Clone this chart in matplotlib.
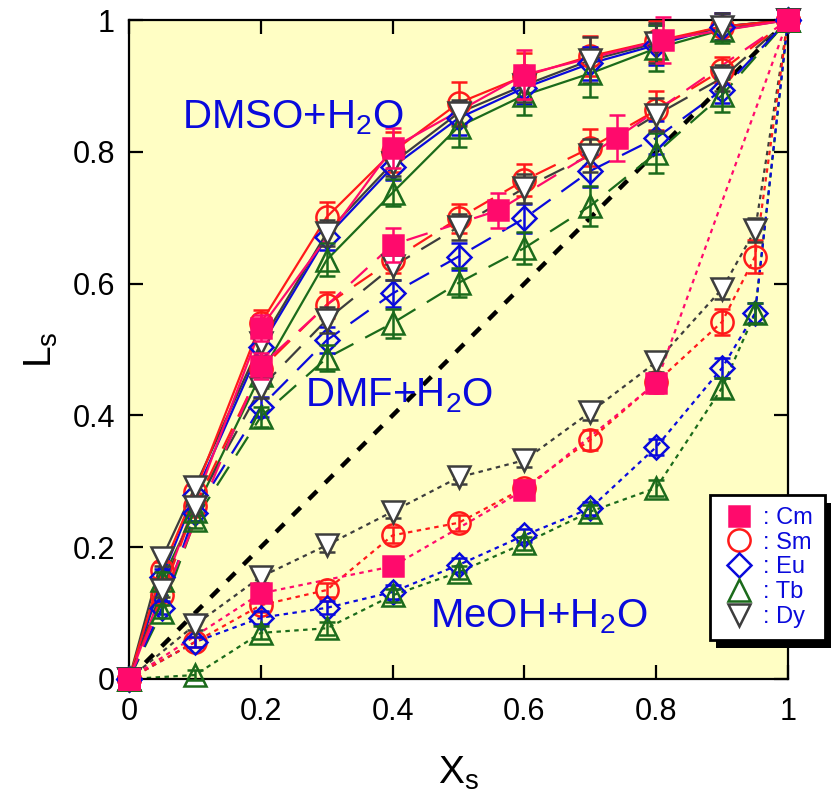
import matplotlib
matplotlib.use("Agg")
import matplotlib.pyplot as plt
from matplotlib.lines import Line2D
from matplotlib.patches import Rectangle

plt.rcParams["font.family"] = ["Liberation Sans", "DejaVu Sans"]
plt.rcParams["mathtext.fontset"] = "custom"
plt.rcParams["mathtext.rm"] = "Liberation Sans"
plt.rcParams["mathtext.it"] = "Liberation Sans"

# ---------------- data: mole fraction of organic solvent vs L_s ----------------
x_dmso = [0.0, 0.05, 0.1, 0.2, 0.3, 0.4, 0.5, 0.6, 0.7, 0.8, 0.9, 1.0]
dmso_sm = [0.0, 0.165, 0.284, 0.540, 0.701, 0.800, 0.874, 0.915, 0.945, 0.968, 0.990, 1.0]
dmso_eu = [0.0, 0.155, 0.279, 0.504, 0.671, 0.777, 0.851, 0.897, 0.934, 0.962, 0.990, 1.0]
dmso_tb = [0.0, 0.150, 0.255, 0.462, 0.636, 0.738, 0.838, 0.886, 0.919, 0.957, 0.985, 1.0]
dmso_dy = [0.0, 0.183, 0.291, 0.510, 0.677, 0.783, 0.859, 0.901, 0.939, 0.965, 0.990, 1.0]
dmso_sm_err = [0, 0.012, 0.015, 0.02, 0.023, 0.03, 0.032, 0.035, 0.03, 0.03, 0.02, 0]
dmso_eu_err = [0, 0.012, 0.015, 0.02, 0.02, 0.02, 0.025, 0.025, 0.025, 0.03, 0.02, 0]
dmso_tb_err = [0, 0.012, 0.015, 0.02, 0.025, 0.02, 0.03, 0.03, 0.036, 0.035, 0.02, 0]
dmso_dy_err = [0, 0.012, 0.015, 0.02, 0.02, 0.02, 0.02, 0.025, 0.035, 0.03, 0.02, 0]
x_dmso_cm = [0.0, 0.2, 0.4, 0.6, 0.81, 1.0]
dmso_cm = [0.0, 0.533, 0.806, 0.917, 0.970, 1.0]
dmso_cm_err = [0, 0.02, 0.03, 0.037, 0.035, 0]

x_dmf = [0.0, 0.05, 0.1, 0.2, 0.3, 0.4, 0.5, 0.6, 0.7, 0.8, 0.9, 1.0]
dmf_sm = [0.0, 0.127, 0.262, 0.470, 0.568, 0.636, 0.699, 0.757, 0.806, 0.863, 0.924, 1.0]
dmf_eu = [0.0, 0.108, 0.252, 0.413, 0.514, 0.585, 0.641, 0.699, 0.771, 0.821, 0.894, 1.0]
dmf_tb = [0.0, 0.102, 0.241, 0.398, 0.487, 0.540, 0.601, 0.654, 0.718, 0.798, 0.886, 1.0]
dmf_dy = [0.0, 0.135, 0.261, 0.442, 0.545, 0.626, 0.686, 0.745, 0.795, 0.856, 0.912, 1.0]
dmf_sm_err = [0, 0.01, 0.012, 0.015, 0.02, 0.02, 0.022, 0.024, 0.028, 0.03, 0.02, 0]
dmf_eu_err = [0, 0.01, 0.012, 0.015, 0.02, 0.02, 0.02, 0.022, 0.025, 0.025, 0.02, 0]
dmf_tb_err = [0, 0.01, 0.012, 0.015, 0.02, 0.022, 0.022, 0.025, 0.03, 0.03, 0.025, 0]
dmf_dy_err = [0, 0.01, 0.012, 0.015, 0.02, 0.02, 0.02, 0.022, 0.025, 0.025, 0.02, 0]
x_dmf_cm = [0.0, 0.2, 0.4, 0.56, 0.74, 1.0]
dmf_cm = [0.0, 0.475, 0.659, 0.711, 0.821, 1.0]
dmf_cm_err = [0, 0.02, 0.026, 0.027, 0.035, 0]

x_meoh = [0.0, 0.1, 0.2, 0.3, 0.4, 0.5, 0.6, 0.7, 0.8, 0.9, 0.95, 1.0]
meoh_sm = [0.0, 0.056, 0.112, 0.135, 0.218, 0.237, 0.290, 0.363, 0.450, 0.542, 0.641, 1.0]
meoh_eu = [0.0, 0.056, 0.093, 0.108, 0.132, 0.173, 0.218, 0.259, 0.352, 0.472, 0.555, 1.0]
meoh_tb = [0.0, 0.006, 0.070, 0.077, 0.127, 0.162, 0.206, 0.254, 0.290, 0.442, 0.555, 1.0]
meoh_dy = [0.0, 0.082, 0.155, 0.203, 0.254, 0.306, 0.332, 0.405, 0.481, 0.592, 0.681, 1.0]
meoh_sm_err = [0, 0.008, 0.01, 0.01, 0.012, 0.012, 0.012, 0.015, 0.015, 0.02, 0.025, 0]
meoh_eu_err = [0, 0.008, 0.01, 0.01, 0.01, 0.01, 0.01, 0.01, 0.012, 0.015, 0.015, 0]
meoh_tb_err = [0, 0.008, 0.01, 0.01, 0.01, 0.01, 0.01, 0.01, 0.012, 0.015, 0.015, 0]
meoh_dy_err = [0, 0.008, 0.01, 0.01, 0.01, 0.01, 0.01, 0.012, 0.015, 0.015, 0.018, 0]
x_meoh_cm = [0.0, 0.2, 0.4, 0.6, 0.8, 1.0]
meoh_cm = [0.0, 0.130, 0.171, 0.287, 0.449, 1.0]
meoh_cm_err = [0, 0.01, 0.01, 0.012, 0.015, 0]

ions = ["Cm", "Sm", "Eu", "Tb", "Dy"]
tick_values = [0, 0.2, 0.4, 0.6, 0.8, 1.0]
tick_labels = ["0", "0.2", "0.4", "0.6", "0.8", "1"]

# ---------------- styles ----------------
STYLE = {
    "Cm": dict(color="#ff0a6c", marker="s", ms=15, mfc="#ff0a6c"),
    "Sm": dict(color="#ff1a1a", marker="o", ms=16, mfc="none"),
    "Eu": dict(color="#0a0adc", marker="D", ms=12, mfc="none"),
    "Tb": dict(color="#1b6b1b", marker="^", ms=16, mfc="none"),
    "Dy": dict(color="#3d3d3d", marker="v", ms=16, mfc="white"),
}
DASHES = {"dmso": None, "dmf": (10, 6), "meoh": (2, 2)}

systems = {
    "dmso": {
        "Sm": (x_dmso, dmso_sm, dmso_sm_err),
        "Eu": (x_dmso, dmso_eu, dmso_eu_err),
        "Tb": (x_dmso, dmso_tb, dmso_tb_err),
        "Dy": (x_dmso, dmso_dy, dmso_dy_err),
        "Cm": (x_dmso_cm, dmso_cm, dmso_cm_err),
    },
    "dmf": {
        "Sm": (x_dmf, dmf_sm, dmf_sm_err),
        "Eu": (x_dmf, dmf_eu, dmf_eu_err),
        "Tb": (x_dmf, dmf_tb, dmf_tb_err),
        "Dy": (x_dmf, dmf_dy, dmf_dy_err),
        "Cm": (x_dmf_cm, dmf_cm, dmf_cm_err),
    },
    "meoh": {
        "Sm": (x_meoh, meoh_sm, meoh_sm_err),
        "Eu": (x_meoh, meoh_eu, meoh_eu_err),
        "Tb": (x_meoh, meoh_tb, meoh_tb_err),
        "Dy": (x_meoh, meoh_dy, meoh_dy_err),
        "Cm": (x_meoh_cm, meoh_cm, meoh_cm_err),
    },
}

W, H = 831, 794
fig = plt.figure(figsize=(W / 100, H / 100), dpi=100)
ax = fig.add_axes([129 / W, (H - 679) / H, 659 / W, 659 / H])
ax.set_facecolor("#fffec4")
ax.set_xlim(0, 1)
ax.set_ylim(0, 1)

# ideal-mixing diagonal
ax.plot([0, 1], [0, 1], color="black", lw=3.2, dashes=(2.6, 2.6), zorder=2)

line_order = ["Tb", "Eu", "Dy", "Sm", "Cm"]
marker_order = ["Sm", "Eu", "Tb", "Dy", "Cm"]

for sysname, series in systems.items():
    for ion in line_order:
        xs, ys, _ = series[ion]
        ln, = ax.plot(xs, ys, color=STYLE[ion]["color"], lw=1.6, zorder=2)
        if DASHES[sysname] is not None:
            ln.set_dashes(DASHES[sysname])

for sysname, series in systems.items():
    for k, ion in enumerate(marker_order):
        xs, ys, es = series[ion]
        st = STYLE[ion]
        cont = ax.errorbar(xs, ys, yerr=es, fmt=st["marker"], ms=st["ms"],
                           mfc=st["mfc"], mec=st["color"], mew=1.8,
                           ecolor=st["color"], elinewidth=1.8, capsize=5.5,
                           capthick=1.8, zorder=3 + k * 0.1)
        for art in cont.get_children():
            art.set_clip_on(False)

# axes frame and ticks
for sp in ax.spines.values():
    sp.set_linewidth(1.6)
ax.set_xticks(tick_values)
ax.set_xticklabels(tick_labels)
ax.set_yticks(tick_values)
ax.set_yticklabels(tick_labels)
ax.tick_params(direction="in", length=10, width=1.6, top=True, right=True,
               labelsize=22, color="black")
ax.tick_params(axis="x", pad=13)
ax.tick_params(axis="y", pad=10)

ax.set_xlabel(r"X$_\mathregular{s}$", fontsize=28)
ax.set_ylabel(r"L$_\mathregular{s}$", fontsize=28)
ax.xaxis.set_label_coords(0.5, -0.115)
ax.yaxis.set_label_coords(-0.105, 0.5)

# system labels
label_kw = dict(color="#0a0adc", fontsize=29, ha="left", va="baseline", zorder=6)
ax.text(0.080, 0.836, r"DMSO+H$_\mathregular{2}$O", **label_kw)
ax.text(0.267, 0.413, r"DMF+H$_\mathregular{2}$O", **label_kw)
ax.text(0.457, 0.079, r"MeOH+H$_\mathregular{2}$O", **label_kw)

# legend with a solid drop shadow
handles = [Line2D([], [], ls="none", marker=STYLE[i]["marker"], ms=STYLE[i]["ms"],
                  mfc=STYLE[i]["mfc"], mec=STYLE[i]["color"], mew=1.8) for i in ions]
leg = fig.legend(handles, [": " + i for i in ions], loc="upper left",
                 bbox_to_anchor=(710 / W, 1 - 495 / H), frameon=True, fancybox=False,
                 fontsize=17, labelspacing=0.12, handlelength=1.45, handletextpad=0.3,
                 borderpad=0.5, borderaxespad=0, edgecolor="black", framealpha=1)
leg.get_frame().set_linewidth(2)
leg.set_zorder(10)
for t in leg.get_texts():
    t.set_color("#0a0adc")

fig.canvas.draw()
bb = leg.get_frame().get_window_extent(fig.canvas.get_renderer())
shadow = Rectangle((bb.x0 + 6, bb.y0 - 8), bb.width, bb.height, transform=None,
                   facecolor="black", edgecolor="none", zorder=9)
fig.add_artist(shadow)

fig.savefig("out.png", dpi=100)
